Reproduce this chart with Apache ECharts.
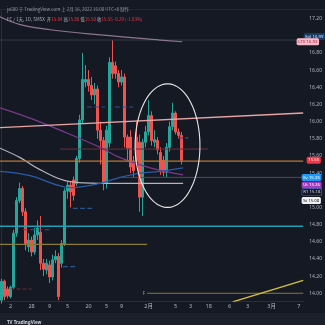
<!DOCTYPE html>
<html><head><meta charset="utf-8">
<script src="https://cdn.jsdelivr.net/npm/echarts@6/dist/echarts.min.js"></script>
<style>html,body{margin:0;padding:0;background:#151924;overflow:hidden}#c{width:325px;height:325px}</style>
</head><body><div id="c"></div>
<script>
// ---- data ----
const categoryCount = 101;
const tickIndices = [3,10,16,22,29,35,40,49,58,63,69,76,82,90,99];
const tickLabels = ['2','28','9','5','20','5','9','2月','5','3','18','6','3','3月','7'];
const priceTicks = [14.0,14.2,14.4,14.6,14.8,15.0,15.2,15.4,15.6,15.8,16.0,16.2,16.4,16.6,16.8,17.0,17.2];
// [open, close, low, high]
const candles = [
 [13.92,14.14,13.88,14.17],[14.14,13.96,13.92,14.16],[14.05,13.97,13.94,14.08],[13.96,14.07,13.94,14.09],
 [14.07,14.70,14.05,14.74],[14.70,15.08,14.66,15.12],[15.08,15.22,15.05,15.29],[15.22,14.95,14.90,15.25],
 [14.95,14.58,14.50,14.99],[14.54,14.62,14.48,14.70],[14.62,14.48,14.43,14.66],[14.48,14.68,14.45,14.76],
 [14.68,14.76,14.62,14.85],[14.71,14.35,14.27,14.90],[14.35,14.28,14.20,14.40],[14.27,14.35,14.22,14.40],
 [14.33,14.19,14.12,14.38],[14.19,14.39,14.15,14.45],[14.39,14.43,14.35,14.50],[14.43,13.96,13.92,14.47],
 [14.35,14.58,14.30,14.62],[14.58,15.19,14.55,15.22],[15.19,15.26,15.10,15.30],[15.26,15.18,15.00,15.30],
 [15.32,15.14,15.08,15.36],[15.28,15.57,15.25,15.60],[15.57,16.02,15.52,16.08],[16.02,16.49,15.98,16.80],
 [16.46,16.49,16.40,16.66],[16.49,16.42,16.35,16.60],[16.42,16.31,16.25,16.52],[16.31,16.38,16.20,16.45],
 [16.38,15.90,15.80,16.42],[15.90,15.78,15.50,16.00],[15.78,15.28,15.20,15.82],[15.28,15.90,15.22,15.95],
 [15.75,16.69,15.70,16.75],[16.69,16.56,16.50,16.95],[16.65,16.56,16.50,16.70],[16.56,16.46,16.40,16.60],
 [16.46,16.52,16.42,16.60],[16.52,15.82,15.70,16.56],[15.82,15.69,15.55,15.85],[15.82,15.47,15.40,15.90],
 [15.52,15.43,15.35,15.60],[15.82,15.55,15.50,16.00],[15.76,15.12,14.95,15.85],[15.12,15.76,14.90,15.80],
 [15.76,15.88,15.70,15.95],[15.88,16.07,15.84,16.25],[16.07,15.78,15.72,16.12],[15.76,15.79,15.70,15.90],
 [15.78,15.67,15.62,15.82],[15.64,15.43,15.38,15.70],[15.55,15.41,15.36,15.60],[15.41,15.70,15.35,15.75],
 [15.70,15.94,15.65,16.00],[15.94,16.10,15.90,16.22],[16.10,15.88,15.85,16.12],[15.88,15.84,15.80,15.92],
 [15.84,15.55,15.50,15.88]
];
const sma200 = [[-0.5,17.22],[6.2,17.13],[16.2,17.07],[32.8,17.01],[52.8,16.95],[60.2,16.93]];
const purpleMA = [[-0.5,16.16],[9.5,16.04],[19.5,15.90],[32.8,15.70],[39.5,15.58],[49.5,15.46],[60.5,15.38]];
const greyMA = [[-0.5,15.69],[6.2,15.58],[12.8,15.44],[22.8,15.30],[32.8,15.28],[60.5,15.28]];
const blueMA = [[-0.5,15.42],[9.5,15.37],[17.8,15.27],[22.8,15.23],[32.8,15.28],[39.5,15.35],[46.2,15.40],[52.8,15.42],[60.5,15.46]];
const salmonTrend = [[-0.5,15.93],[100.5,16.10]];
const yellowTrend = [[77,13.90],[100.5,14.15]];
const topLine = [[-0.5,16.95],[100.5,16.95]];
const orangeLevel = [[-0.5,15.54],[100.5,15.54]];
const cyanLevel = [[-0.5,14.78],[100.5,14.78]];
const oliveLevel = [[-0.5,14.57],[48.5,14.57]];
const fLevel = [[48.5,14.00],[100.5,14.00]];
const dimRedLevel = [[19.5,15.68],[68.8,15.68]];
const greyLevel = [[39.5,15.35],[100.5,15.35]];
const blueDashes = [
 [[28.5,16.17],[34.5,16.17]],[[37.8,16.17],[43.8,16.17]],[[23.8,14.99],[30.2,14.99]],
 [[7.2,14.74],[16.2,14.74]],[[20.5,14.31],[25.2,14.31]],[[58.8,15.81],[62.2,15.81]]
];
const dimRedDash = [[3,14.05],[10,14.05]];
const ellipse = [[55.3,15.72,10.8,0.72]];
const tagNames = ['Epl','LTV','','Ev','Ut','R1','St'];
const tagValues = [16.99,16.93,15.55,15.35,15.26,15.18,15.08];

// ---- chart ----
const categories = Array.from({length: categoryCount}, (_, i) => String(i));
const tagStyles = [
 {bg:'#1a3a66', fg:'#cfe0ff', border:'#1a3a66', dx:1},
 {bg:'#f4b8c8', fg:'#b0243c', border:'#f4b8c8', dx:-6},
 {bg:'#f23645', fg:'#ffffff', border:'#f23645', dx:4},
 {bg:'#2196f3', fg:'#ffffff', border:'#2196f3', dx:-1},
 {bg:'#a33cbf', fg:'#ffffff', border:'#a33cbf', dx:-1},
 {bg:'#141a2a', fg:'#d1d4dc', border:'#3b6fd6', dx:-1},
 {bg:'#f0f0f0', fg:'#131722', border:'#f0f0f0', dx:-1}
];
const last = candles[candles.length - 1];
const prev = candles[candles.length - 2];
const chg = last[1] - prev[1];
const font = '"Noto Sans", "Noto Sans CJK SC", sans-serif';

function seg(data, color, width, type, smooth) {
  return {type:'line', xAxisIndex:1, yAxisIndex:0, data, symbol:'none', smooth: smooth || false,
    lineStyle:{color, width, type: type || 'solid'}, silent:true, z:3, animation:false};
}

const series = [
  {type:'candlestick', data: candles, xAxisIndex:0, yAxisIndex:0, barWidth:'72%', z:2,
   itemStyle:{color:'#26a69a', color0:'#ef5350', borderColor:'#26a69a', borderColor0:'#ef5350', borderWidth:1}},
  seg(topLine, '#363a47', 1),
  seg(sma200, '#8e7590', 1.2, 'solid', 0.4),
  seg(purpleMA, '#7b3a8c', 1.2, 'solid', 0.4),
  seg(greyMA, '#b4b4b8', 1.2, 'solid', 0.4),
  seg(blueMA, '#2a5ca8', 1.3, 'solid', 0.4),
  seg(dimRedLevel, '#6b2f3f', 1),
  seg(greyLevel, '#4a4e5a', 1),
  seg(salmonTrend, '#e8a4a4', 1.4),
  seg(orangeLevel, '#c0762b', 1.3),
  seg(cyanLevel, '#1f9fb3', 1.4),
  seg(oliveLevel, '#8a7b30', 1.2),
  seg(fLevel, '#8a7b30', 1.2),
  seg(yellowTrend, '#d6c13a', 1.4),
  seg(dimRedDash, '#6b2f3f', 1, 'dashed'),
  ...blueDashes.map(d => seg(d, '#2b5590', 1.2, 'dashed')),
  {type:'scatter', xAxisIndex:1, yAxisIndex:0, data:[fLevel[0]], symbolSize:0, silent:true, z:4,
   label:{show:true, position:'left', distance:2, formatter:'F', color:'#c9b84a', fontSize:5, fontFamily:font}},
  {type:'custom', xAxisIndex:1, yAxisIndex:0, data: ellipse, silent:true, z:5, clip:true,
   encode:{x:0, y:1},
   renderItem: function(params, api) {
     const cx = api.value(0), cy = api.value(1), rx = api.value(2), ry = api.value(3);
     const pts = [];
     for (let k = 0; k <= 90; k++) {
       const t = k / 90 * Math.PI * 2;
       pts.push(api.coord([cx + rx * Math.cos(t), cy + ry * Math.sin(t)]));
     }
     return {type:'polyline', shape:{points:pts}, style:{stroke:'#e8e8e8', lineWidth:1.1, fill:null}};
   }},
  // price tags on the axis
  {type:'custom', xAxisIndex:1, yAxisIndex:0, clip:false, silent:true, z:10,
   data: tagValues.map((v, k) => [100.5, v, k]),
   encode:{x:0, y:1},
   renderItem: function(params, api) {
     const k = api.value(2);
     const v = api.value(1);
     const p = api.coord([api.value(0), v]);
     const st = tagStyles[k];
     const txt = (tagNames[k] ? tagNames[k] + ' ' : '') + v.toFixed(2);
     return {type:'text', x: p[0] + st.dx, y: p[1],
       style:{text: txt, fill: st.fg, backgroundColor: st.bg, borderColor: st.border, borderWidth: 0.6,
         padding:[1,1,0.5,1], borderRadius:1, font: '4.3px ' + font, verticalAlign:'middle', align:'left'}};
   }}
];

const chart = echarts.init(document.getElementById('c'), null, {renderer:'canvas'});
chart.setOption({
  backgroundColor:'#151924',
  animation:false,
  textStyle:{fontFamily:font},
  title:[
    {text:'js600 于 TradingView.com 上 2月 16, 2022 16:00 UTC+8 制作', left:2, top:2,
     textStyle:{fontSize:4.5, color:'#9598a1', fontWeight:'normal', fontFamily:'"Noto Sans CJK SC", sans-serif'}},
    {text:'{g|FC / 1天, 1D, SMSX  开}{r|' + last[0].toFixed(2) + '} {g|高}{r|' + last[3].toFixed(2) +
          '} {g|低}{r|' + last[2].toFixed(2) + '} {g|收}{r|' + last[1].toFixed(2) + ' ' + chg.toFixed(2) +
          ' (' + (chg / prev[1] * 100).toFixed(2) + '%)}',
     left:2, top:12,
     textStyle:{fontSize:4.5, fontWeight:'normal', fontFamily:'"Noto Sans CJK SC", sans-serif',
       rich:{g:{color:'#b2b5be', fontSize:4.5}, r:{color:'#f23645', fontSize:4.5}}}},
    {text:'TV TradingView', left:2, top:315,
     textStyle:{fontSize:4.5, color:'#d1d4dc', fontWeight:'bold', fontFamily:font}}
  ],
  graphic:[
    {type:'rect', left:0, top:313, shape:{width:325, height:12}, style:{fill:'#1c202b'}, z:-1, silent:true},
    {type:'rect', left:0, top:9, shape:{width:325, height:1}, style:{fill:'#232733'}, silent:true}
  ],
  grid:{left:0, right:20, top:10, bottom:24, containLabel:false},
  xAxis:[
    {type:'category', data:categories, boundaryGap:true, gridIndex:0,
     axisLine:{show:true, lineStyle:{color:'#2a2e39'}}, axisTick:{show:false}, splitLine:{show:false},
     axisLabel:{interval:(i) => tickIndices.includes(i), formatter:(v, i) => tickLabels[tickIndices.indexOf(i)] || '',
       fontSize:5.5, color:'#b2b5be', margin:3, fontFamily:font}},
    {type:'value', min:-0.5, max:100.5, show:false, gridIndex:0}
  ],
  yAxis:[
    {type:'value', position:'right', min:13.91, max:17.30, scale:true,
     axisLine:{show:true, lineStyle:{color:'#2a2e39'}}, axisTick:{show:false}, splitLine:{show:false},
     axisLabel:{customValues:priceTicks, formatter:(v) => v.toFixed(2), fontSize:5, color:'#b2b5be', margin:6, fontFamily:font}}
  ],
  series
});
</script></body></html>
